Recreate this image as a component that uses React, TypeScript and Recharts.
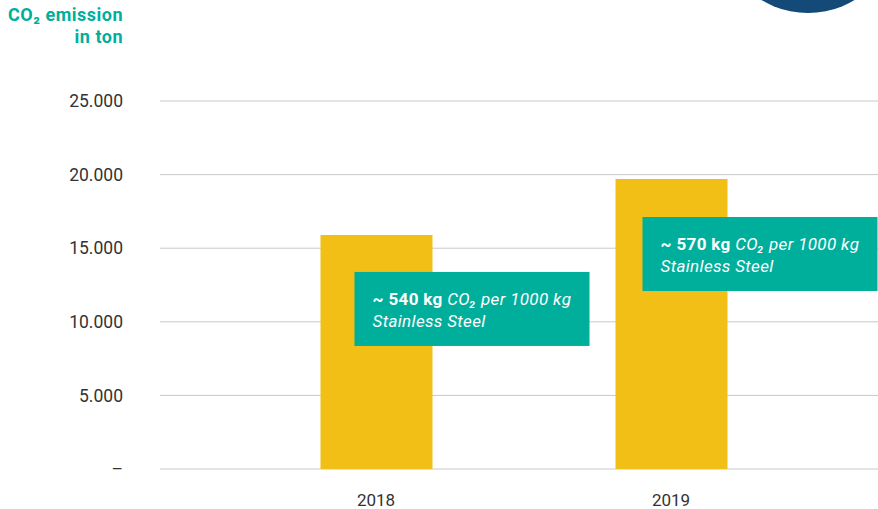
import { Bar, BarChart, CartesianGrid, XAxis, YAxis, LabelList } from 'recharts'

const years = ['2018', '2019'];
const emissions = [15900, 19700];
const intensity = ['~ 540 kg', '~ 570 kg'];
const yTicks = [0, 5000, 10000, 15000, 20000, 25000];

const data = years.map((year, i) => ({ year, emission: emissions[i], note: intensity[i] }));

const TEAL = '#00ae9c';
const YELLOW = '#f2bf16';
const FONT = 'Roboto, "Open Sans", sans-serif';

// where each note box sits relative to its bar's top-left corner
const boxOffsets = [{ dx: 34, dy: 37 }, { dx: 27, dy: 38 }];

const formatTick = (v: number) => (v === 0 ? '–' : String(v).replace(/\B(?=(\d{3})+(?!\d))/g, '.'));

const renderNote = (props: any) => {
  const { x, y, value } = props;
  const i = intensity.indexOf(value);
  const off = boxOffsets[i] || boxOffsets[0];
  const bx = x + off.dx;
  const by = y + off.dy;
  return (
    <g>
      <rect x={bx} y={by} width={235} height={74} fill={TEAL} />
      <text x={bx + 18} y={by + 33} fill="#fff" fontFamily={FONT} fontSize={17} letterSpacing={0.35}>
        <tspan fontWeight="bold">{value}</tspan>
        <tspan fontStyle="italic">{' CO₂ per 1000 kg'}</tspan>
        <tspan x={bx + 18} dy={22} fontStyle="italic">Stainless Steel</tspan>
      </text>
    </g>
  );
};

export default function App() {
  return (
    <div style={{ position: 'absolute', left: 0, top: 0, width: 878, height: 509, background: '#fff', overflow: 'hidden', fontFamily: FONT }}>
      <div style={{ position: 'absolute', left: 0, top: 4, width: 123, textAlign: 'right', color: TEAL, fontWeight: 'bold', fontSize: 18, lineHeight: '22px', letterSpacing: 0.5 }}>
        CO₂ emission<br />in ton
      </div>
      <div style={{ position: 'absolute', left: 718, top: -167, width: 180, height: 180, borderRadius: '50%', background: '#134a77' }} />
      <BarChart width={878} height={509} data={data} margin={{ top: 101, right: 0, bottom: 0, left: 0 }}>
        <CartesianGrid vertical={false} stroke="#c9c9c9" />
        <XAxis
          dataKey="year"
          height={40}
          axisLine={false}
          tickLine={false}
          tickSize={0}
          tickMargin={25}
          padding={{ left: 68.5, right: 59.5 }}
          tick={{ fill: '#333', fontSize: 17, fontFamily: FONT }}
        />
        <YAxis
          width={160}
          domain={[0, 25000]}
          ticks={yTicks}
          axisLine={false}
          tickLine={false}
          tickSize={0}
          tickMargin={37}
          tickFormatter={formatTick}
          tick={{ fill: '#333', fontSize: 17.5, fontFamily: FONT }}
        />
        <Bar dataKey="emission" fill={YELLOW} barSize={112} isAnimationActive={false}>
          <LabelList dataKey="note" content={renderNote} />
        </Bar>
      </BarChart>
    </div>
  );
}
